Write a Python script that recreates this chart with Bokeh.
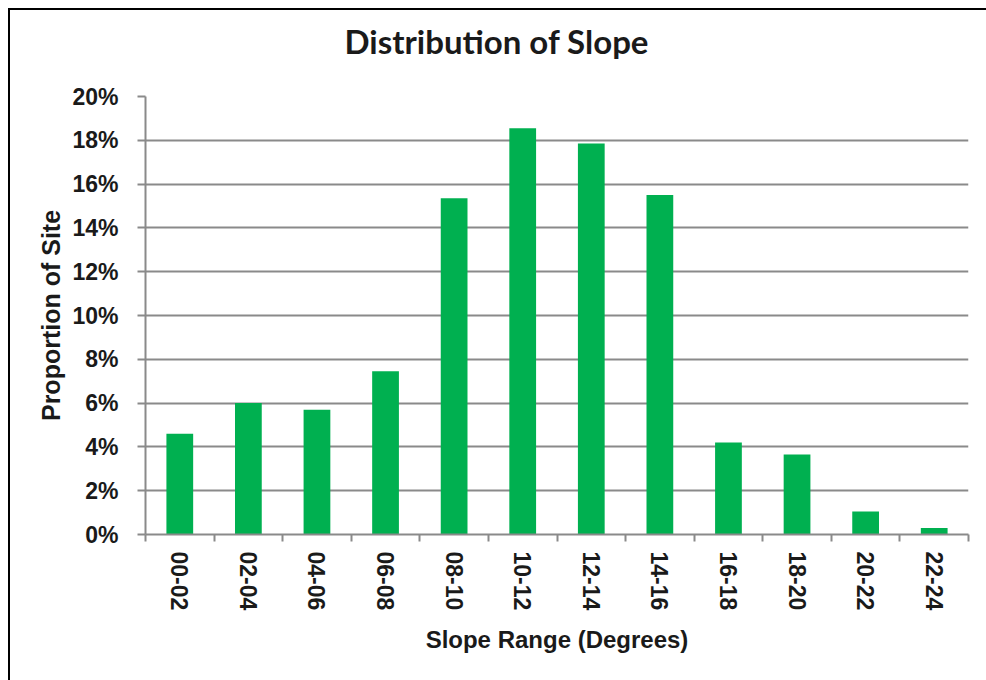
from bokeh.plotting import figure
from bokeh.models import Range1d, FixedTicker, PrintfTickFormatter, ColumnDataSource, Title
from bokeh.embed import file_html
from bokeh.resources import INLINE

title_text = "Distribution of Slope"
categories = ["00-02", "02-04", "04-06", "06-08", "08-10", "10-12",
              "12-14", "14-16", "16-18", "18-20", "20-22", "22-24"]
proportion_pct = [4.6, 6.0, 5.7, 7.45, 15.35, 18.55, 17.85, 15.5, 4.2, 3.65, 1.05, 0.3]
y_ticks = [0, 2, 4, 6, 8, 10, 12, 14, 16, 18, 20]

GREEN = "#00B050"
GRID = "#8a8a8a"
TEXT = "#1a1a1a"

xpos = [i + 0.5 for i in range(len(categories))]
src = ColumnDataSource(dict(x=xpos, top=proportion_pct, cat=categories))

frame_bg = ("linear-gradient(#000, #000) 0 0 / 100% 2px no-repeat, "
            "linear-gradient(#000, #000) 0 0 / 2px 100% no-repeat, #ffffff")

p = figure(width=978, height=672, output_backend="svg", toolbar_location=None,
           x_range=Range1d(0, len(categories)), y_range=Range1d(0, 20),
           min_border_left=137, min_border_right=18, min_border_top=88, min_border_bottom=146,
           styles={"margin-left": "8px", "margin-top": "8px", "background": frame_bg})

p.title.text = title_text
p.title.text_font = "Lato"
p.title.text_font_style = "bold"
p.title.text_font_size = "33px"
p.title.align = "left"
p.title.offset = 199
p.title.standoff = 0
p.title.text_color = TEXT

# spacer between title and plot area
p.add_layout(Title(text=" ", text_font_size="1px", standoff=33), "above")

p.vbar(x="x", top="top", bottom=0, width=0.39, source=src, fill_color=GREEN, line_color=None)

p.outline_line_color = None
p.background_fill_color = "white"
p.border_fill_color = None

# grid
p.xgrid.grid_line_color = None
p.ygrid.ticker = FixedTicker(ticks=y_ticks)
p.ygrid.grid_line_color = GRID
p.ygrid.grid_line_width = 2

# y axis
ya = p.yaxis[0]
ya.ticker = FixedTicker(ticks=y_ticks)
ya.formatter = PrintfTickFormatter(format="%d%%")
ya.axis_line_color = GRID
ya.axis_line_width = 2
ya.major_tick_line_color = GRID
ya.major_tick_line_width = 2
ya.major_tick_out = 8
ya.major_tick_in = 0
ya.minor_tick_line_color = None
ya.major_label_text_font = "Liberation Sans"
ya.major_label_text_font_style = "bold"
ya.major_label_text_font_size = "23px"
ya.major_label_text_color = TEXT
ya.major_label_standoff = 19
ya.axis_label = "Proportion of Site"
ya.axis_label_text_font = "Liberation Sans"
ya.axis_label_text_font_style = "bold"
ya.axis_label_text_font_size = "25px"
ya.axis_label_text_color = TEXT
ya.axis_label_standoff = 4

# x axis
xa = p.xaxis[0]
xa.ticker = FixedTicker(ticks=xpos, minor_ticks=list(range(len(categories) + 1)))
xa.major_label_overrides = {x: c for x, c in zip(xpos, categories)}
xa.major_label_orientation = "vertical"
xa.axis_line_color = GRID
xa.axis_line_width = 2
xa.major_tick_line_color = None
xa.major_tick_out = 0
xa.major_tick_in = 0
xa.minor_tick_line_color = GRID
xa.minor_tick_line_width = 2
xa.minor_tick_out = 7
xa.minor_tick_in = 0
xa.major_label_text_font = "Liberation Sans"
xa.major_label_text_font_style = "bold"
xa.major_label_text_font_size = "23px"
xa.major_label_text_color = TEXT
xa.major_label_standoff = 10
xa.axis_label = "Slope Range (Degrees)"
xa.axis_label_text_font = "Liberation Sans"
xa.axis_label_text_font_style = "bold"
xa.axis_label_text_font_size = "24px"
xa.axis_label_text_color = TEXT
xa.axis_label_standoff = 13

open("out.html", "w").write(file_html(p, INLINE))
